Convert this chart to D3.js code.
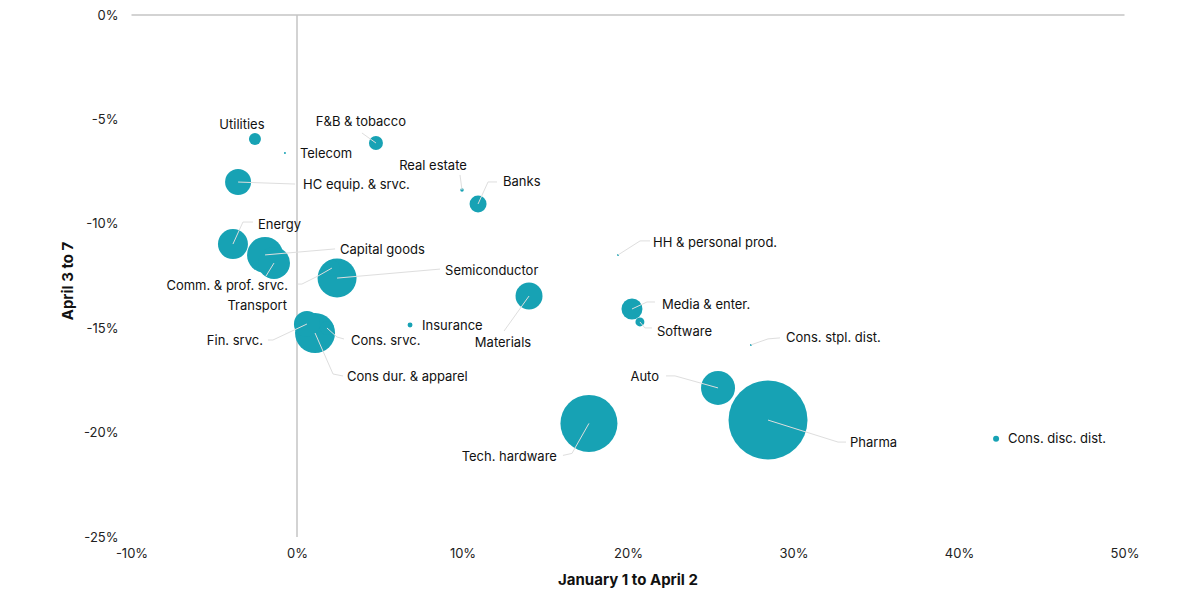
<!DOCTYPE html>
<html>
<head>
<meta charset="utf-8">
<script src="https://cdn.jsdelivr.net/npm/d3@7/dist/d3.min.js"></script>
<style>
  body { margin: 0; background: #fff; }
  svg { display: block; font-family: Inter, "Noto Sans", sans-serif; }
</style>
</head>
<body>
<svg id="chart" width="1201" height="601"></svg>
<script>
// Sector returns: x = Jan 1 to Apr 2, y = Apr 3 to 7 (percent); weight sets bubble area
const sectors = ['Utilities', 'Telecom', 'F&B & tobacco', 'Real estate', 'Banks', 'HC equip. & srvc.',
  'Energy', 'Capital goods', 'Comm. & prof. srvc.', 'Transport', 'Semiconductor', 'Insurance',
  'Materials', 'Fin. srvc.', 'Cons dur. & apparel', 'Cons. srvc.', 'HH & personal prod.',
  'Media & enter.', 'Software', 'Cons. stpl. dist.', 'Tech. hardware', 'Auto', 'Pharma', 'Cons. disc. dist.'];
const ytdReturn = [-2.54, -0.73, 4.77, 9.97, 10.94, -3.56, -3.87, -1.93, -1.39, 2.11, 2.42, 6.83,
  14.02, 0.6, 1.09, 1.81, 19.4, 20.24, 20.72, 27.43, 17.64, 25.44, 28.46, 42.24];
const weekReturn = [-5.94, -6.61, -6.13, -8.38, -9.05, -8.0, -10.97, -11.49, -11.88, -12.12, -12.6, -14.85,
  -13.46, -14.8, -15.23, -14.99, -11.49, -14.08, -14.7, -15.8, -19.56, -17.86, -19.4, -20.3];
const weights = [0.36, 0.01, 0.49, 0.03, 0.72, 1.69, 2.25, 3.24, 2.56, 0.64, 3.8, 0.06,
  1.82, 1.69, 4.0, 0.49, 0.01, 1.1, 0.2, 0.01, 8.12, 2.89, 15.6, 0.09];

const xTicks = [-10, 0, 10, 20, 30, 40, 50];
const yTicks = [0, -5, -10, -15, -20, -25];

// Label placement: offset from bubble centre (px), anchor, leader-line bend points
const labelLayout = {
  'Utilities':           { dx: -13, dy: -15, anchor: 'middle', leader: [] },
  'Telecom':             { dx: 15,  dy: 0,   anchor: 'start',  leader: [] },
  'F&B & tobacco':       { dx: -15, dy: -22, anchor: 'middle', leader: [[-14, -10]] },
  'Real estate':         { dx: -29, dy: -25, anchor: 'middle', leader: [[-2, -15]] },
  'Banks':               { dx: 25,  dy: -23, anchor: 'start',  leader: [[10, -22], [19, -22]] },
  'HC equip. & srvc.':   { dx: 65,  dy: 2,   anchor: 'start',  leader: [[57, 2]] },
  'Energy':              { dx: 25,  dy: -20, anchor: 'start',  leader: [[10, -22], [20, -22]] },
  'Capital goods':       { dx: 75,  dy: -5,  anchor: 'start',  leader: [[70, -6]] },
  'Comm. & prof. srvc.': { dx: 14,  dy: 22,  anchor: 'end',    leader: [[-8, 13]] },
  'Transport':           { dx: -45, dy: 37,  anchor: 'end',    leader: [[-14, 8], [-30, 16], [-34, 16]] },
  'Semiconductor':       { dx: 108, dy: -8,  anchor: 'start',  leader: [[103, -9]] },
  'Insurance':           { dx: 12,  dy: 0,   anchor: 'start',  leader: [] },
  'Materials':           { dx: -26, dy: 46,  anchor: 'middle', leader: [[-25, 35]] },
  'Fin. srvc.':          { dx: -44, dy: 16,  anchor: 'end',    leader: [[-34, 16], [-39, 16]] },
  'Cons dur. & apparel': { dx: 32,  dy: 43,  anchor: 'start',  leader: [[18, 41], [28, 43]] },
  'Cons. srvc.':         { dx: 24,  dy: 12,  anchor: 'start',  leader: [[10, 9], [17, 11]] },
  'HH & personal prod.': { dx: 35,  dy: -12, anchor: 'start',  leader: [[22, -14], [32, -14]] },
  'Media & enter.':      { dx: 30,  dy: -5,  anchor: 'start',  leader: [[15, -7], [23, -7]] },
  'Software':            { dx: 17,  dy: 10,  anchor: 'start',  leader: [[5, 6], [12, 6]] },
  'Cons. stpl. dist.':   { dx: 35,  dy: -7,  anchor: 'start',  leader: [[17, -6], [29, -7]] },
  'Tech. hardware':      { dx: -32, dy: 33,  anchor: 'end',    leader: [[-17, 30], [-26, 32]] },
  'Auto':                { dx: -59, dy: -11, anchor: 'end',    leader: [[-43, -12], [-52, -12]] },
  'Pharma':              { dx: 82,  dy: 22,  anchor: 'start',  leader: [[70, 22], [78, 22]] },
  'Cons. disc. dist.':   { dx: 12,  dy: 0,   anchor: 'start',  leader: [] }
};

const data = sectors.map((name, i) => ({
  name, x: ytdReturn[i], y: weekReturn[i], w: weights[i]
}));

const svg = d3.select('#chart');
const bubbleColor = '#17a2b4';
const lineColor = '#c4c4c4';

const x = d3.scaleLinear().domain([-10, 50]).range([131.5, 1124.5]);
const y = d3.scaleLinear().domain([0, -25]).range([15, 537]);
const r = d3.scaleSqrt().domain([0, d3.max(weights)]).range([0, 39.5]);

// Top reference line at 0% and vertical line at 0%
svg.append('line')
  .attr('x1', x(-10)).attr('x2', x(50))
  .attr('y1', y(0)).attr('y2', y(0))
  .attr('stroke', lineColor).attr('stroke-width', 1.5);
svg.append('line')
  .attr('x1', x(0)).attr('x2', x(0))
  .attr('y1', y(0)).attr('y2', y(-25))
  .attr('stroke', lineColor).attr('stroke-width', 1.5);

// Y axis ticks
const yAxis = d3.axisLeft(y).tickValues(yTicks).tickSize(0).tickPadding(13)
  .tickFormat(d => `${d}%`);
svg.append('g')
  .attr('transform', `translate(${x(-10)},0)`)
  .call(yAxis)
  .call(g => g.select('.domain').remove())
  .selectAll('text')
  .attr('font-family', 'Inter, "Noto Sans", sans-serif')
  .attr('font-size', '13px').attr('fill', '#222');

// X axis ticks
const xAxis = d3.axisBottom(x).tickValues(xTicks).tickSize(0).tickPadding(12)
  .tickFormat(d => `${d}%`);
svg.append('g')
  .attr('transform', `translate(0,${y(-25)})`)
  .call(xAxis)
  .call(g => g.select('.domain').remove())
  .selectAll('text')
  .attr('font-family', 'Inter, "Noto Sans", sans-serif')
  .attr('font-size', '13px').attr('fill', '#222');

// Axis titles
svg.append('text')
  .attr('x', (x(-10) + x(50)) / 2).attr('y', 585)
  .attr('text-anchor', 'middle').attr('font-size', '15px').attr('font-weight', 'bold').attr('fill', '#111')
  .text('January 1 to April 2');
svg.append('text')
  .attr('transform', `translate(73,${(y(0) + y(-25)) / 2 + 5}) rotate(-90)`)
  .attr('text-anchor', 'middle').attr('font-size', '15px').attr('font-weight', 'bold').attr('fill', '#111')
  .text('April 3 to 7');

// Bubbles, larger first
const sorted = data.slice().sort((a, b) => b.w - a.w);
svg.append('g').selectAll('circle')
  .data(sorted)
  .join('circle')
  .attr('cx', d => x(d.x)).attr('cy', d => y(d.y))
  .attr('r', d => Math.max(0.8, r(d.w)))
  .attr('fill', bubbleColor);

// Leader lines
const lineGen = d3.line();
svg.append('g').selectAll('path')
  .data(data.filter(d => labelLayout[d.name].leader.length))
  .join('path')
  .attr('d', d => {
    const cx = x(d.x), cy = y(d.y);
    const pts = [[cx, cy]].concat(labelLayout[d.name].leader.map(p => [cx + p[0], cy + p[1]]));
    return lineGen(pts);
  })
  .attr('fill', 'none').attr('stroke', '#dedede').attr('stroke-width', 1);

// Labels
svg.append('g').selectAll('text')
  .data(data)
  .join('text')
  .attr('x', d => x(d.x) + labelLayout[d.name].dx)
  .attr('y', d => y(d.y) + labelLayout[d.name].dy)
  .attr('dy', '0.35em')
  .attr('text-anchor', d => labelLayout[d.name].anchor)
  .attr('font-size', '13px').attr('fill', '#111')
  .text(d => d.name);
</script>
</body>
</html>
